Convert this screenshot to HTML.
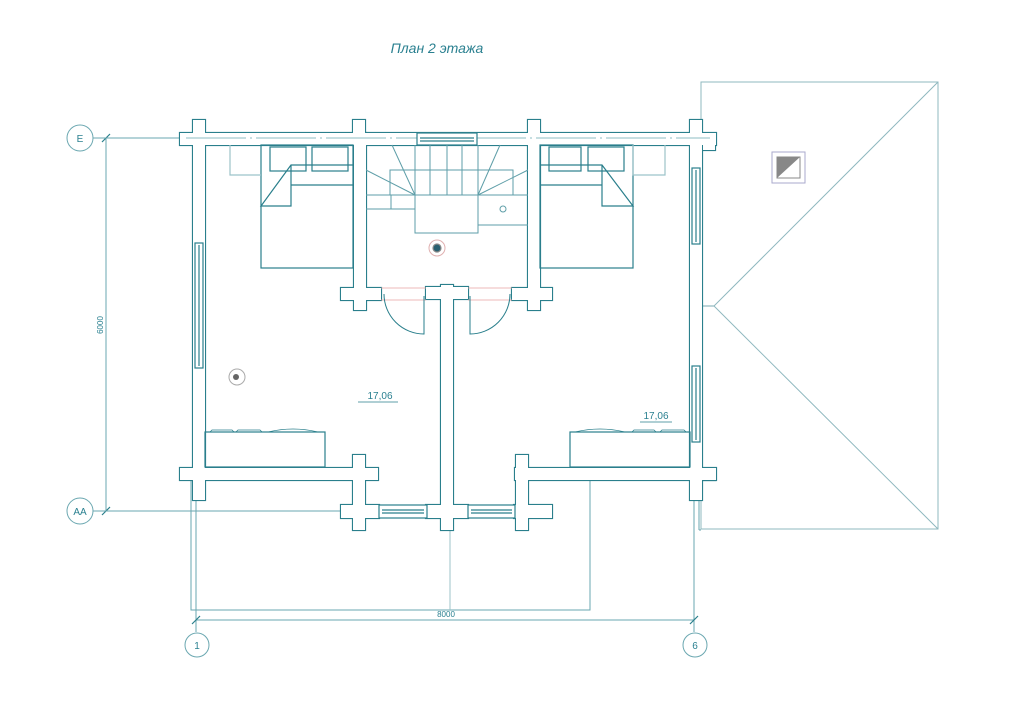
<!DOCTYPE html>
<html><head><meta charset="utf-8"><style>
html,body{margin:0;padding:0;background:#fff}
svg{display:block}
text{font-family:"Liberation Sans",sans-serif;fill:#2a8090}
</style></head><body>
<svg width="1024" height="724" viewBox="0 0 1024 724" xmlns="http://www.w3.org/2000/svg">
<defs>
<g id="walls">
 <!-- top wall -->
 <rect x="180" y="133" width="536" height="12"/>
 <!-- left wall -->
 <rect x="193" y="120" width="12" height="380"/>
 <!-- right wall -->
 <rect x="690" y="120" width="12" height="380"/>
 <!-- top posts -->
 <rect x="353" y="120" width="12" height="25"/>
 <rect x="528" y="120" width="12" height="25"/>
 <!-- stair walls -->
 <rect x="354" y="133" width="12" height="177"/>
 <rect x="528" y="133" width="12" height="177"/>
 <rect x="341" y="288" width="40" height="12"/>
 <rect x="512" y="288" width="40" height="12"/>
 <!-- bottom walls -->
 <rect x="180" y="468" width="198" height="12"/>
 <rect x="515" y="468" width="201" height="12"/>
 <rect x="353" y="455" width="12" height="75"/>
 <rect x="516" y="455" width="12" height="75"/>
 <rect x="341" y="505" width="38" height="13"/>
 <rect x="514" y="505" width="38" height="13"/>
 <!-- center partition -->
 <rect x="441" y="285" width="12" height="245"/>
 <rect x="426" y="287" width="42" height="12"/>
 <rect x="426" y="505" width="42" height="13"/>
 <!-- side wall posts -->
 <rect x="703" y="138" width="12" height="12" />
 <rect x="703" y="470" width="12" height="10" />
</g>
</defs>
<g fill="none" stroke="#2a7f8c" stroke-width="1.2">
 <!-- roof -->
 <rect x="701" y="82" width="237" height="447" stroke="#8fb8bf" stroke-width="1"/>
 <polyline points="938,82 714,306 938,529" stroke="#8fb8bf" stroke-width="1"/>
 <line x1="701" y1="306" x2="714" y2="306" stroke="#8fb8bf"/>
 <rect x="772" y="152" width="33" height="31" stroke="#aac" stroke-width="1"/>
 <!-- porch outline -->
 <polyline points="191,480 191,610 590,610 590,480" stroke="#6aa7b0" stroke-width="1"/>
 <line x1="196" y1="480" x2="196" y2="632" stroke="#6aa7b0" stroke-width="1"/>
 <line x1="694" y1="480" x2="694" y2="632" stroke="#6aa7b0" stroke-width="1"/>
 <line x1="699" y1="480" x2="699" y2="530" stroke="#6aa7b0" stroke-width="1"/>
 <line x1="699" y1="530" x2="701" y2="530" stroke="#6aa7b0" stroke-width="1"/>
 <line x1="450" y1="480" x2="450" y2="610" stroke="#9cc3c9" stroke-width="1"/>
 <!-- dims -->
 <line x1="196" y1="620" x2="694" y2="620" stroke="#6aa7b0" stroke-width="1"/>
 <line x1="192" y1="624" x2="200" y2="616" />
 <line x1="690" y1="624" x2="698" y2="616" />
 <line x1="106" y1="138" x2="106" y2="511" stroke="#6aa7b0" stroke-width="1"/>
 <line x1="102" y1="142" x2="110" y2="134"/>
 <line x1="102" y1="515" x2="110" y2="507"/>
 <line x1="93" y1="138" x2="200" y2="138" stroke="#6aa7b0" stroke-width="1"/>
 <line x1="93" y1="511" x2="400" y2="511" stroke="#6aa7b0" stroke-width="1"/>
 <circle cx="80" cy="138" r="13" stroke="#6aa7b0" stroke-width="1"/>
 <circle cx="80" cy="511" r="13" stroke="#6aa7b0" stroke-width="1"/>
 <circle cx="197" cy="645" r="12" stroke="#6aa7b0" stroke-width="1"/>
 <circle cx="695" cy="645" r="12" stroke="#6aa7b0" stroke-width="1"/>
 <!-- walls: stroke pass then fill pass -->
 <use href="#walls" stroke="#2a7f8c" stroke-width="2.2" fill="none"/>
</g>
<use href="#walls" fill="#fff" stroke="none"/>
<g fill="none" stroke="#2a7f8c" stroke-width="1.2">
 <line x1="186" y1="138" x2="710" y2="138" stroke="#6aa7b0" stroke-width="0.8" stroke-dasharray="60 4 2 4"/>
 <!-- top window -->
 <rect x="417" y="133" width="60" height="12" fill="#fff"/>
 <line x1="420" y1="138" x2="474" y2="138"/><line x1="420" y1="141" x2="474" y2="141"/>
 <!-- left side window -->
 <rect x="195" y="243" width="8" height="125" fill="#fff"/>
 <line x1="199" y1="245" x2="199" y2="366"/>
 <!-- right side windows -->
 <rect x="692" y="168" width="8" height="76" fill="#fff"/>
 <line x1="696" y1="170" x2="696" y2="242"/>
 <rect x="692" y="366" width="8" height="76" fill="#fff"/>
 <line x1="696" y1="368" x2="696" y2="440"/>
 <!-- bottom windows -->
 <rect x="379" y="505" width="48" height="13" fill="#fff"/>
 <line x1="382" y1="510" x2="424" y2="510"/><line x1="382" y1="513" x2="424" y2="513"/>
 <rect x="468" y="505" width="47" height="13" fill="#fff"/>
 <line x1="471" y1="510" x2="512" y2="510"/><line x1="471" y1="513" x2="512" y2="513"/>
 <!-- beds -->
 <rect x="261" y="145" width="92" height="123"/>
 <rect x="270" y="147" width="36" height="24"/><rect x="312" y="147" width="36" height="24"/>
 <polyline points="353,165 291,165 261,206 291,206 291,165"/>
 <line x1="291" y1="185" x2="353" y2="185"/>
 <rect x="540" y="145" width="93" height="123"/>
 <rect x="549" y="147" width="32" height="24"/><rect x="588" y="147" width="36" height="24"/>
 <polyline points="540,165 602,165 633,206 602,206 602,165"/>
 <line x1="540" y1="185" x2="602" y2="185"/>
 <polyline points="230,145 230,175 261,175" stroke="#9cc3c9"/>
 <polyline points="633,145 633,175 665,175 665,145" stroke="#9cc3c9"/>
 <!-- stairs -->
 <g stroke="#5e9ea8" stroke-width="1">
 <rect x="390" y="170" width="123" height="25"/>
 <rect x="415" y="195" width="63" height="38"/>
 <line x1="366" y1="195" x2="528" y2="195"/>
 <line x1="478" y1="225" x2="528" y2="225"/>
 <line x1="366" y1="209" x2="415" y2="209"/>
 <line x1="430" y1="145" x2="430" y2="195"/><line x1="447" y1="145" x2="447" y2="195"/><line x1="462" y1="145" x2="462" y2="195"/>
 <line x1="415" y1="145" x2="415" y2="195"/><line x1="478" y1="145" x2="478" y2="233"/>
 <line x1="392" y1="145" x2="415" y2="195"/><line x1="366" y1="170" x2="415" y2="195"/>
 <line x1="500" y1="145" x2="478" y2="195"/><line x1="528" y1="170" x2="478" y2="195"/>
 <line x1="391" y1="195" x2="391" y2="209"/>
 <circle cx="503" cy="209" r="3"/>
 </g>
 <!-- doors -->
 <line x1="381" y1="288" x2="426" y2="288" stroke="#e8a0a0" stroke-width="0.8"/>
 <line x1="381" y1="300" x2="426" y2="300" stroke="#e8a0a0" stroke-width="0.8"/>
 <line x1="468" y1="288" x2="512" y2="288" stroke="#e8a0a0" stroke-width="0.8"/>
 <line x1="468" y1="300" x2="512" y2="300" stroke="#e8a0a0" stroke-width="0.8"/>
 <path d="M384 294 A40 40 0 0 0 424 334 L424 296" stroke-width="1"/>
 <path d="M510 294 A40 40 0 0 1 470 334 L470 296" stroke-width="1"/>
 <!-- cabinets -->
 <rect x="205" y="432" width="120" height="35"/>
 <rect x="570" y="432" width="120" height="35"/>
 <path d="M210 432 l2 -2 h20 l2 2 M236 432 l2 -2 h22 l2 2 M268 432 q25 -6 50 0" stroke-width="0.8"/>
 <path d="M575 432 q25 -6 50 0 M632 432 l2 -2 h20 l2 2 M660 432 l2 -2 h22 l2 2" stroke-width="0.8"/>
 <!-- lamps -->
 <circle cx="437" cy="248" r="8" stroke="#e0b0b0" stroke-width="1"/>
 <circle cx="437" cy="248" r="4" fill="#2a6070" stroke="#888"/>
 <circle cx="237" cy="377" r="8" stroke="#aaa" stroke-width="1"/>
 <circle cx="236" cy="377" r="3" fill="#666" stroke="none"/>
 <line x1="358" y1="402" x2="398" y2="402" stroke-width="0.8"/>
 <line x1="640" y1="422" x2="672" y2="422" stroke-width="0.8"/>
</g>
<polygon points="777,157 800,157 777,178" fill="#888"/>
<rect x="777" y="157" width="23" height="21" fill="none" stroke="#888" stroke-width="1"/>
<text x="437" y="53" font-size="14" font-style="italic" text-anchor="middle">План 2 этажа</text>
<text x="380" y="399" font-size="10" text-anchor="middle">17,06</text>
<text x="656" y="419" font-size="10" text-anchor="middle">17,06</text>
<text x="446" y="617" font-size="8" text-anchor="middle">8000</text>
<text x="103" y="325" font-size="8" text-anchor="middle" transform="rotate(-90 103 325)">6000</text>
<text x="80" y="142" font-size="10" text-anchor="middle">E</text>
<text x="80" y="515" font-size="10" text-anchor="middle">AA</text>
<text x="197" y="649" font-size="10" text-anchor="middle">1</text>
<text x="695" y="649" font-size="10" text-anchor="middle">6</text>
</svg>
</body></html>
